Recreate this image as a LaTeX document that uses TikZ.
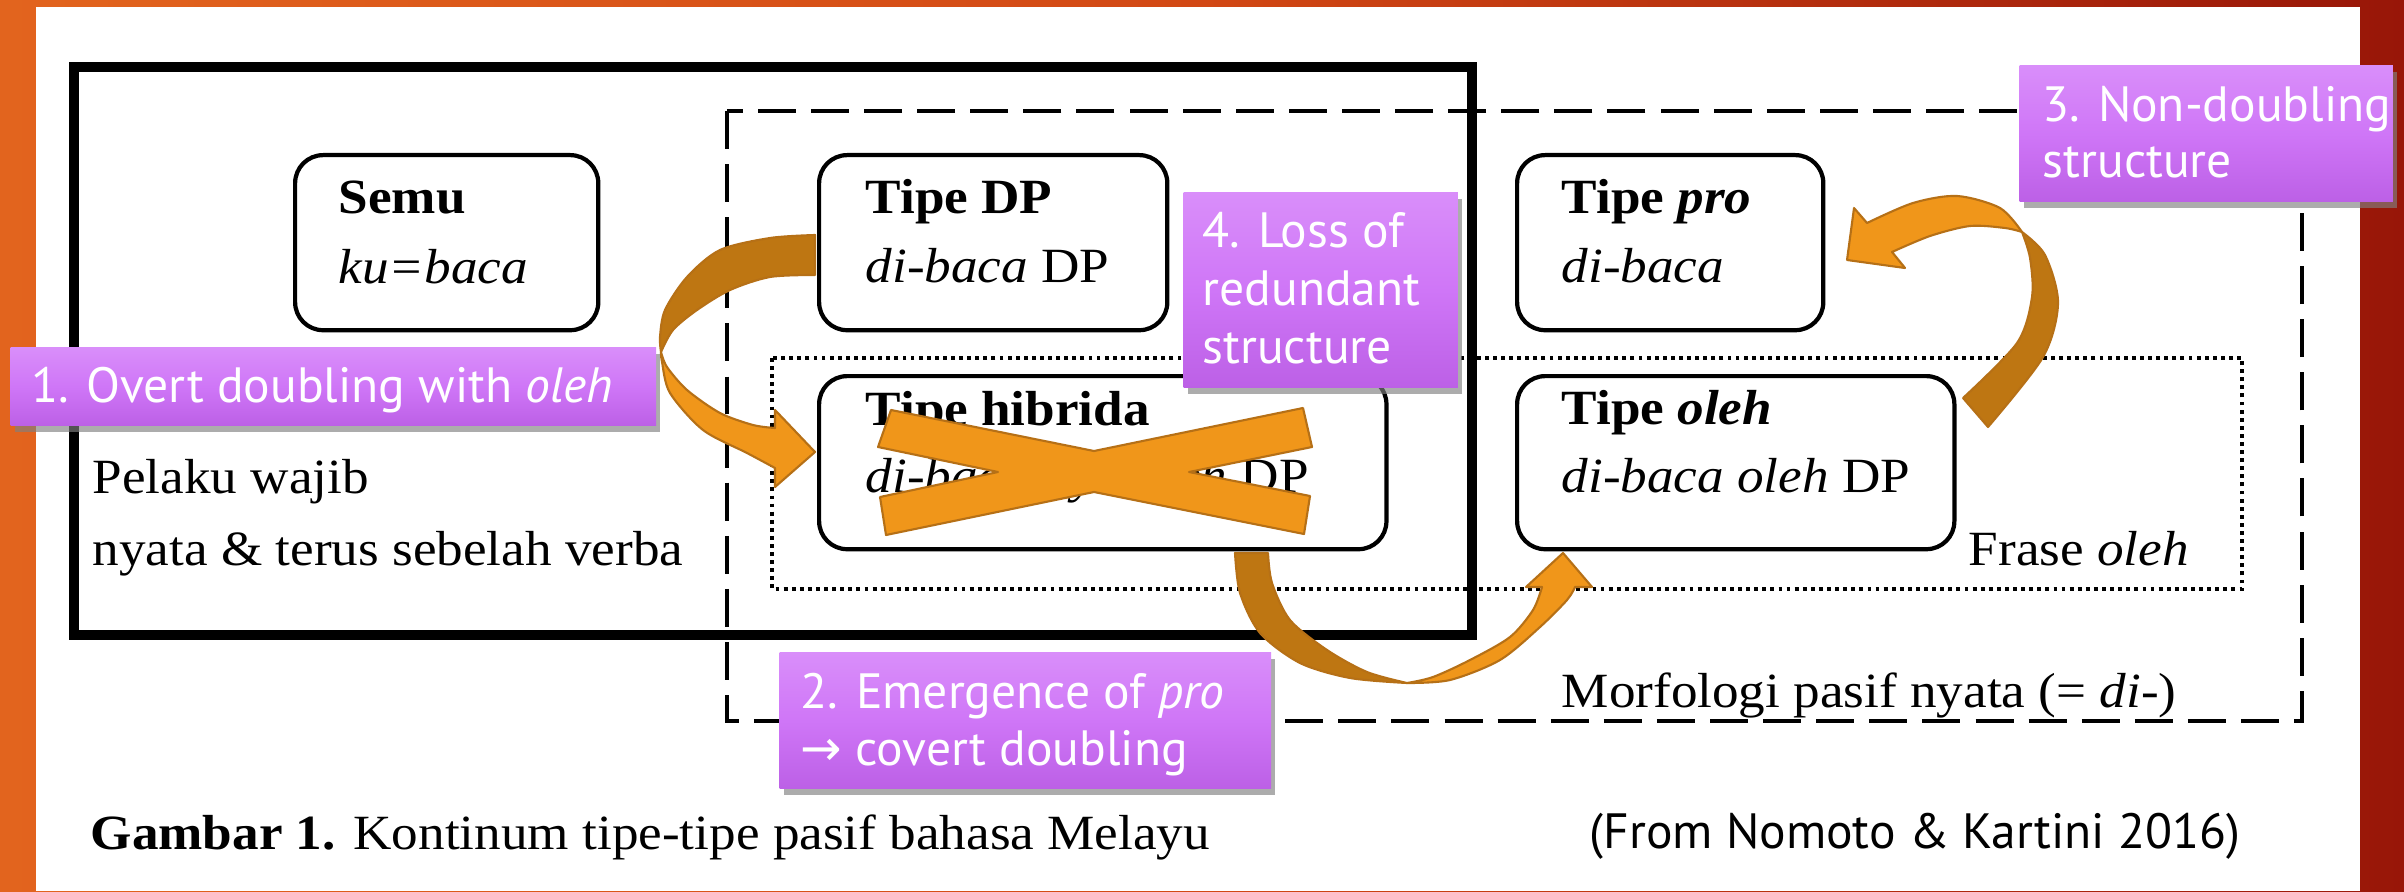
\documentclass[tikz,border=0pt]{standalone}
\usepackage{fontspec}
\setmainfont{Liberation Serif}[FakeStretch=1.08]
\newfontfamily\slidefont{PT Sans}
\newfontfamily\symbolfont{DejaVu Sans}
\usetikzlibrary{shadows}

\definecolor{bgL}{RGB}{226,100,30}
\definecolor{bgM}{RGB}{210,72,20}
\definecolor{bgR}{RGB}{152,22,8}
\definecolor{orL}{RGB}{240,150,26}
\definecolor{orD}{RGB}{190,118,18}
\definecolor{orE}{RGB}{182,112,22}
\definecolor{pTop}{RGB}{217,142,250}
\definecolor{pMid}{RGB}{207,118,247}
\definecolor{pBot}{RGB}{188,96,230}

\begin{document}
\begin{tikzpicture}[x=0.01cm,y=-0.01cm,
  serif/.style={anchor=base west, inner sep=0, font=\fontsize{14}{16}\selectfont},
  note/.style={anchor=base west, inner sep=0, text=white, font=\slidefont\fontsize{14.1}{17}\selectfont},
  tbox/.style={draw, line width=1.2pt, rounded corners=0.28cm, fill=white, inner sep=0, anchor=north west},
  pbox/.style={anchor=north west, inner sep=0, top color=pTop, bottom color=pBot, middle color=pMid,
    drop shadow={shadow xshift=0.04cm, shadow yshift=-0.06cm, fill=black!50, opacity=0.65}},
  lightband/.style={fill=orL, draw=orE, line width=0.6pt, line join=round},
  darkband/.style={fill=orD, draw=orE, line width=0.6pt, line join=round}]

% slide background and white panel
\useasboundingbox (0,0) rectangle (2404,891);
\shade[left color=bgL, right color=bgR, middle color=bgM] (0,0) rectangle (2404,891);
\fill[white] (36,7) rectangle (2360,891);

% grouping frames
\draw[line width=2.85pt] (74,67) rectangle (1472,635);
\draw[line width=1.15pt, dash pattern=on 10.8pt off 4.3pt] (727,111) rectangle (2302,721);
\draw[line width=1.1pt, dash pattern=on 1.1pt off 1.2pt] (772,358) rectangle (2242,589);

% passive types
\node[tbox, minimum width=3.03cm, minimum height=1.75cm] (semu) at (293,153) {};
\node[tbox, minimum width=3.48cm, minimum height=1.75cm] (dp) at (817,153) {};
\node[tbox, minimum width=3.06cm, minimum height=1.75cm] (pro) at (1515,153) {};
\node[tbox, minimum width=5.67cm, minimum height=1.73cm] (hib) at (817,374) {};
\node[tbox, minimum width=4.37cm, minimum height=1.73cm] (oleh) at (1515,374) {};

\node[serif] (semuA) at (338,213) {\textbf{Semu}};
\node[serif] (semuB) at (338,283) {\textit{ku=baca}};
\node[serif] (dpA) at (865,213) {\textbf{Tipe DP}};
\node[serif] (dpB) at (865,282) {\textit{di-baca} DP};
\node[serif] (proA) at (1561,213) {\textbf{Tipe \textit{pro}}};
\node[serif] (proB) at (1561,282) {\textit{di-baca}};
\node[serif] (hibA) at (865,425) {\textbf{Tipe hibrida}};
\node[serif] (hibB) at (865,492) {\textit{di-baca-nya oleh} DP};
\node[serif] (olehA) at (1561,424) {\textbf{Tipe \textit{oleh}}};
\node[serif] (olehB) at (1561,492) {\textit{di-baca oleh} DP};

% frame labels and caption
\node[serif] (pel1) at (92,493) {Pelaku wajib};
\node[serif] (pel2) at (92,565) {nyata \& terus sebelah verba};
\node[serif] (frase) at (1968,565) {Frase \textit{oleh}};
\node[serif] (morf) at (1561,707) {Morfologi pasif nyata (= \textit{di}-)};
\node[serif] (cap) at (90,849) {\textbf{Gambar 1.} Kontinum tipe-tipe pasif bahasa Melayu};
\node[note, text=black] (cite) at (1589,848) {(From Nomoto \& Kartini 2016)};

% cross over the hybrid type
\filldraw[lightband] (891,410) -- (1094,451) -- (1303,408) -- (1312,447) -- (1189,472)
  -- (1310,496) -- (1304,534) -- (1094,492) -- (886,535) -- (880,497) -- (998,472)
  -- (878,447) -- cycle;

% curved arrow: Tipe DP -> Tipe hibrida
\filldraw[darkband] plot[smooth] coordinates {(815,235) (770,238) (720,250) (687,277) (665,310) (660,337) (661,352)}
  -- plot[smooth] coordinates {(661,352) (673,330) (697,310) (730,290) (770,277) (815,275)} -- cycle;
\filldraw[lightband] plot[smooth] coordinates {(661,352) (662,362) (670,393) (703,430) (747,453) (775,468)}
  -- (775,487) -- (815,452) -- (775,410) -- (775,428)
  -- plot[smooth] coordinates {(775,428) (753,425) (720,413) (687,390) (667,367) (661,352)} -- cycle;

% curved arrow: Tipe hibrida -> Tipe oleh
\filldraw[darkband] plot[smooth] coordinates {(1235,553) (1240,593) (1260,633) (1300,663) (1350,678) (1407,683)}
  -- plot[smooth] coordinates {(1407,683) (1367,672) (1327,650) (1290,620) (1272,583) (1268,553)} -- cycle;
\filldraw[lightband] plot[smooth] coordinates {(1407,683) (1450,680) (1500,660) (1540,627) (1567,600) (1575,587)}
  -- (1592,587) -- (1563,553) -- (1526,587) -- (1542,587)
  -- plot[smooth] coordinates {(1542,587) (1533,610) (1510,637) (1470,660) (1433,677) (1407,683)} -- cycle;

% curved arrow: Tipe oleh -> Tipe pro
\filldraw[darkband] plot[smooth] coordinates {(1963,398) (2017,343) (2032,297) (2030,258) (2022,232)}
  -- plot[smooth] coordinates {(2022,232) (2045,255) (2058,303) (2043,357) (1988,427)} -- cycle;
\filldraw[lightband] plot[smooth] coordinates {(2022,232) (2000,208) (1957,196) (1913,203) (1867,223)}
  -- (1854,208) -- (1847,260) -- (1905,268) -- (1892,252)
  -- plot[smooth] coordinates {(1892,252) (1930,236) (1970,226) (2005,228) (2022,232)} -- cycle;

% annotation boxes
\node[pbox, minimum width=6.45cm, minimum height=0.78cm] (s1) at (10,347) {};
\node[note] (s1t) at (31,402) {1. Overt doubling with \textit{oleh}};

\node[pbox, minimum width=4.91cm, minimum height=1.36cm] (s2) at (779,652) {};
\node[note] (s2a) at (800,708) {2. Emergence of \textit{pro}};
\node[note] (s2b) at (800,765) {{\symbolfont →} covert doubling};

\node[pbox, minimum width=3.73cm, minimum height=1.36cm] (s3) at (2019,65) {};
\node[note] (s3a) at (2042,122) {3. Non-doubling};
\node[note] (s3b) at (2042,178) {structure};

\node[pbox, minimum width=2.74cm, minimum height=1.95cm] (s4) at (1183,192) {};
\node[note] (s4a) at (1202,248) {4. Loss of};
\node[note] (s4b) at (1202,305) {redundant};
\node[note] (s4c) at (1202,363) {structure};
\end{tikzpicture}
\end{document}
